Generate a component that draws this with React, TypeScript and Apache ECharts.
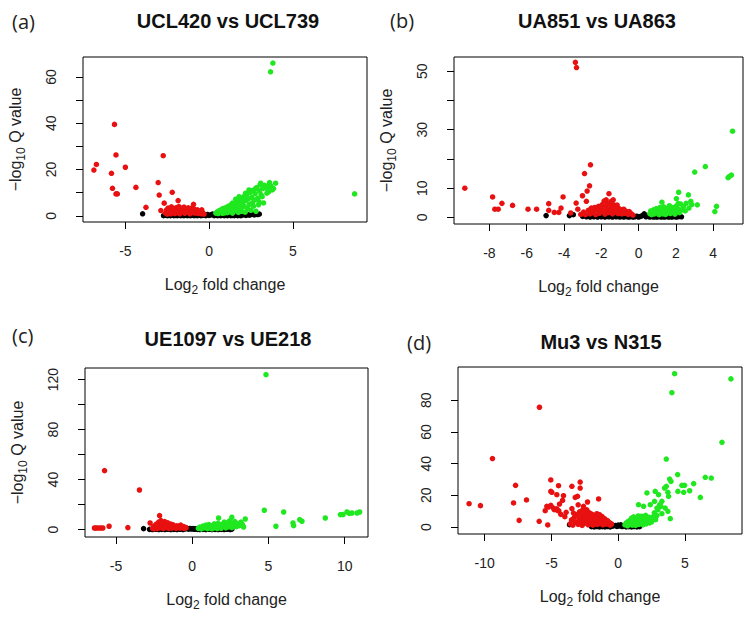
import React, { useEffect, useRef } from "react";
import * as echarts from "echarts";

// ---------- panel texts ----------
const panelLetters = ["(a)", "(b)", "(c)", "(d)"];
const panelTitles = ["UCL420 vs UCL739", "UA851 vs UA863", "UE1097 vs UE218", "Mu3 vs N315"];

// ---------- axis ticks / labels ----------
const aXTicks = [-5, 0, 5];
const aYTicks = [0, 10, 20, 30, 40, 50, 60];
const aYLabels = [0, 20, 40, 60];
const bXTicks = [-8, -6, -4, -2, 0, 2, 4];
const bYTicks = [0, 10, 20, 30, 40, 50];
const bYLabels = [0, 10, 30, 50];
const cXTicks = [-5, 0, 5, 10];
const cYTicks = [0, 20, 40, 60, 80, 100, 120];
const cYLabels = [0, 40, 80, 120];
const dXTicks = [-10, -5, 0, 5];
const dYTicks = [0, 20, 40, 60, 80];
const dYLabels = [0, 20, 40, 60, 80];

// ---------- panel (a) ----------
const aBlack = [
  [-3.97, 0.9], [-2.72, 0.1], [-2.6, 0.3], [-2.5, 0.1], [-2.4, 0.2], [-2.3, 0.1], [-2.2, 0.4], [-2.1, 0.1],
  [-2.0, 0.2], [-1.9, 0.1], [-1.8, 0.3], [-1.7, 0.1], [-1.6, 0.2], [-1.5, 0.1], [-1.4, 0.3], [-1.3, 0.1],
  [-1.2, 0.2], [-1.1, 0.1], [-1.0, 0.3], [-0.9, 0.1], [-0.8, 0.2], [-0.7, 0.1], [-0.6, 0.4], [-0.5, 0.1],
  [-0.4, 0.2], [-0.3, 0.5], [-0.2, 0.1], [-0.1, 0.6], [0, 0.2], [0.1, 0.4], [0.2, 0.8], [0.3, 0.1],
  [0.4, 0.3], [0.5, 0.1], [0.6, 0.2], [0.7, 0.1], [0.8, 0.3], [0.9, 0.1], [1.0, 0.2], [1.1, 0.1],
  [1.2, 0.4], [1.3, 0.1], [1.4, 0.2], [1.5, 0.1], [1.6, 0.3], [1.7, 0.1], [1.8, 0.2], [1.9, 0.1],
  [2.0, 0.4], [2.1, 0.6], [2.2, 0.2], [2.3, 0.7], [2.4, 0.3], [2.5, 0.5], [2.6, 0.8], [2.7, 0.4],
  [2.8, 0.9], [2.9, 0.6], [3.0, 0.8],
];
const aRed = [
  [-6.88, 19.8], [-6.73, 22.2], [-5.65, 39.5], [-5.56, 26.3], [-5.83, 18.4], [-5.77, 11.9], [-5.56, 9.5],
  [-5.48, 9.5], [-5.0, 21.0], [-4.37, 12.3], [-3.77, 3.7], [-2.74, 26.0], [-3.04, 14.4], [-2.98, 9.0],
  [-2.2, 10.2], [-1.85, 6.6], [-2.68, 5.5], [-2.88, 2.3], [-0.93, 5.0], [-0.95, 2.9], [-0.44, 2.6],
  [-2.6, 1.2], [-2.55, 2.5], [-2.5, 0.8], [-2.45, 3.4], [-2.4, 1.9], [-2.35, 2.8], [-2.3, 0.9], [-2.25, 3.9],
  [-2.2, 1.5], [-2.15, 2.6], [-2.1, 3.2], [-2.05, 1.0], [-2.0, 2.1], [-1.95, 3.6], [-1.9, 1.4], [-1.85, 2.9],
  [-1.8, 4.0], [-1.75, 0.9], [-1.7, 2.3], [-1.65, 3.3], [-1.6, 1.7], [-1.55, 2.7], [-1.5, 3.8], [-1.45, 1.1],
  [-1.4, 2.4], [-1.35, 3.1], [-1.3, 1.6], [-1.25, 3.5], [-1.2, 2.0], [-1.15, 0.9], [-1.1, 2.8], [-1.05, 3.3],
  [-1.0, 1.4], [-0.95, 2.3], [-0.9, 3.0], [-0.85, 1.2], [-0.8, 2.0], [-0.75, 1.6], [-0.7, 2.6], [-0.65, 1.0],
  [-0.6, 1.8], [-0.55, 1.3], [-0.5, 2.2], [-0.45, 0.9], [-0.4, 1.5], [-0.35, 1.1], [-0.3, 0.8],
];
const aGreen = [
  [3.81, 66], [3.67, 62.2], [8.69, 9.5], [3.97, 14.1], [3.61, 14.4], [3.08, 14.1], [2.18, 9.8], [2.38, 11.2],
  [2.78, 11.9], [3.37, 12.6], [3.57, 10.5], [3.77, 11.2], [1.39, 5.5], [1.59, 7.2], [1.79, 8.3], [1.98, 6.9],
  [2.58, 5.5], [2.98, 6.2], [3.17, 8.3],
  [0.4, 1.2], [0.5, 1.8], [0.55, 1.0], [0.6, 2.3], [0.7, 1.5], [0.75, 2.8], [0.8, 1.1], [0.85, 3.2],
  [0.9, 2.0], [0.95, 1.3], [1.0, 3.6], [1.05, 2.5], [1.1, 1.4], [1.15, 4.2], [1.2, 3.0], [1.25, 1.8],
  [1.3, 4.8], [1.35, 2.6], [1.4, 1.2], [1.45, 3.8], [1.5, 5.0], [1.55, 2.2], [1.6, 4.4], [1.65, 6.0],
  [1.7, 3.0], [1.75, 1.5], [1.8, 5.2], [1.85, 7.0], [1.9, 3.6], [1.95, 2.0], [2.0, 5.8], [2.05, 8.2],
  [2.1, 4.1], [2.15, 1.6], [2.2, 6.6], [2.25, 9.0], [2.3, 3.2], [2.35, 7.4], [2.4, 5.0], [2.45, 10.2],
  [2.5, 2.4], [2.55, 8.0], [2.6, 11.0], [2.65, 4.2], [2.7, 6.8], [2.75, 9.6], [2.8, 2.0], [2.85, 12.2],
  [2.9, 7.6], [2.95, 4.8], [3.0, 10.8], [3.05, 13.5], [3.1, 9.2], [3.2, 11.8], [3.25, 5.6], [3.3, 13.2],
  [3.4, 12.0], [3.45, 9.8], [3.5, 13.0], [3.6, 11.6], [3.7, 12.8], [3.85, 11.8],
];

// ---------- panel (b) ----------
const bBlack = [
  [-4.96, 0.6], [-3.71, 0.6], [-3.5, 0.9], [-3.0, 0.3], [-2.9, 0.8], [-2.8, 0.2], [-2.7, 0.5], [-2.6, 0.1],
  [-2.5, 0.6], [-2.4, 0.2], [-2.3, 0.4], [-2.2, 0.1], [-2.1, 0.7], [-2.0, 0.2], [-1.9, 0.4], [-1.8, 0.1],
  [-1.7, 0.5], [-1.6, 0.2], [-1.5, 0.3], [-1.4, 0.1], [-1.3, 0.5], [-1.2, 0.2], [-1.1, 0.3], [-1.0, 0.1],
  [-0.9, 0.4], [-0.8, 0.1], [-0.7, 0.3], [-0.6, 0.2], [-0.5, 0.1], [-0.4, 0.3], [-0.3, 0.1], [-0.2, 0.2],
  [-0.1, 0.4], [0, 0.1], [0.1, 0.3], [0.2, 0.6], [0.3, 1.2], [0.35, 0.8], [0.4, 0.2], [0.5, 0.4],
  [0.6, 0.1], [0.7, 0.3], [0.8, 0.1], [0.9, 0.2], [1.0, 0.1], [1.1, 0.3], [1.2, 0.1], [1.3, 0.2],
  [1.4, 0.1], [1.5, 0.3], [1.6, 0.1], [1.7, 0.2], [1.8, 0.1], [1.9, 0.3], [2.0, 0.1], [2.1, 0.2],
  [2.2, 0.3], [2.3, 0.2],
];
const bRed = [
  [-9.32, 10.0], [-7.83, 7.0], [-7.71, 2.8], [-7.53, 2.8], [-7.33, 4.8], [-6.76, 4.1], [-5.93, 2.8],
  [-5.47, 2.8], [-4.82, 4.7], [-4.82, 2.4], [-4.52, 1.7], [-4.28, 1.7], [-4.16, 3.2], [-4.05, 7.0],
  [-3.64, 1.5], [-3.39, 53.1], [-3.33, 51.3], [-3.35, 4.9], [-3.26, 2.8], [-3.01, 7.4], [-2.9, 15.0],
  [-2.76, 9.0], [-2.63, 10.8], [-2.58, 18.0], [-2.8, 5.5], [-2.54, 3.2], [-2.37, 2.6], [-2.01, 2.4],
  [-1.74, 6.0], [-1.65, 4.7], [-1.59, 8.1], [-1.47, 5.5], [-1.33, 4.3], [-1.36, 6.0],
  [-3.1, 1.0], [-2.95, 1.8], [-2.85, 0.9], [-2.7, 2.4], [-2.6, 1.2], [-2.5, 3.0], [-2.45, 1.6], [-2.35, 3.4],
  [-2.3, 0.9], [-2.2, 2.6], [-2.15, 3.8], [-2.1, 1.4], [-2.0, 3.2], [-1.95, 4.4], [-1.9, 2.0], [-1.85, 5.6],
  [-1.8, 1.1], [-1.75, 3.6], [-1.7, 2.6], [-1.65, 4.8], [-1.6, 1.6], [-1.55, 3.0], [-1.5, 2.2], [-1.45, 4.0],
  [-1.4, 1.2], [-1.35, 2.8], [-1.3, 3.6], [-1.25, 1.8], [-1.2, 2.4], [-1.15, 4.2], [-1.1, 1.3], [-1.05, 3.0],
  [-1.0, 2.0], [-0.95, 2.6], [-0.9, 1.2], [-0.85, 1.9], [-0.8, 2.8], [-0.75, 1.4], [-0.7, 2.2], [-0.6, 1.6],
  [-0.55, 1.0], [-0.5, 2.0], [-0.4, 1.3], [-0.3, 0.8],
];
const bGreen = [
  [5.04, 29.5], [4.98, 14.5], [4.87, 14.0], [4.8, 13.6], [3.58, 17.4], [3.01, 15.5], [3.15, 4.3],
  [4.18, 3.8], [4.09, 2.0], [2.15, 8.6], [2.67, 7.7], [2.8, 5.5], [1.25, 5.2], [2.03, 6.4], [2.12, 4.7],
  [0.6, 1.3], [0.65, 2.2], [0.7, 0.9], [0.75, 1.7], [0.8, 2.6], [0.85, 1.2], [0.9, 2.0], [0.95, 3.0],
  [1.0, 1.5], [1.05, 2.4], [1.1, 0.9], [1.15, 3.4], [1.2, 1.9], [1.25, 2.8], [1.3, 1.2], [1.35, 3.6],
  [1.4, 2.2], [1.45, 1.0], [1.5, 3.0], [1.55, 1.6], [1.6, 2.6], [1.65, 4.0], [1.7, 1.3], [1.75, 2.4],
  [1.8, 3.4], [1.85, 1.8], [1.9, 2.8], [1.95, 1.1], [2.0, 3.8], [2.05, 2.0], [2.1, 3.0], [2.2, 1.6],
  [2.25, 4.6], [2.3, 2.6], [2.4, 3.6], [2.5, 2.2], [2.55, 4.8], [2.7, 3.2], [2.85, 4.4],
];

// ---------- panel (c) ----------
const cBlack = [
  [-3.19, 0.8], [-2.8, 0.2], [-2.6, 0.1], [-2.4, 0.3], [-2.2, 0.1], [-2.0, 0.2], [-1.8, 0.1], [-1.6, 0.3],
  [-1.4, 0.1], [-1.2, 0.2], [-1.0, 0.1], [-0.8, 0.3], [-0.6, 0.1], [-0.45, 0.6], [-0.35, 1.0], [-0.25, 0.4],
  [-0.15, 0.9], [-0.05, 0.5], [0.05, 0.8], [0.15, 0.3], [0.25, 0.7], [0.35, 0.2], [0.5, 0.1], [0.7, 0.2],
  [0.9, 0.1], [1.1, 0.3], [1.3, 0.1], [1.5, 0.2], [1.7, 0.1], [1.9, 0.2], [2.1, 0.1], [2.3, 0.3],
  [2.5, 0.1], [2.6, 0.4],
];
const cRed = [
  [-6.41, 1.3], [-6.3, 1.3], [-6.16, 1.3], [-6.0, 1.3], [-5.86, 1.3], [-5.75, 47.2], [-5.45, 2.7],
  [-4.22, 1.6], [-3.46, 31.7], [-2.76, 5.3], [-2.14, 11.2],
  [-2.6, 1.0], [-2.55, 2.2], [-2.5, 0.6], [-2.45, 3.2], [-2.4, 1.6], [-2.35, 4.4], [-2.3, 0.8], [-2.25, 2.8],
  [-2.2, 6.0], [-2.15, 1.4], [-2.1, 3.6], [-2.05, 7.2], [-2.0, 2.2], [-1.95, 5.0], [-1.9, 0.9], [-1.85, 3.0],
  [-1.8, 6.4], [-1.75, 1.6], [-1.7, 4.0], [-1.65, 2.4], [-1.6, 5.4], [-1.55, 1.0], [-1.5, 3.2], [-1.45, 2.0],
  [-1.4, 4.4], [-1.35, 1.2], [-1.3, 2.8], [-1.25, 3.8], [-1.2, 1.6], [-1.1, 2.4], [-1.05, 1.0], [-1.0, 3.0],
  [-0.95, 1.8], [-0.9, 2.6], [-0.8, 1.2], [-0.75, 3.6], [-0.7, 2.0], [-0.6, 1.4], [-0.55, 2.4], [-0.5, 0.9],
  [-0.4, 1.6],
];
const cGreen = [
  [4.84, 124], [4.73, 15.5], [5.49, 2.7], [6.0, 14.1], [6.61, 5.3], [6.65, 3.2], [7.05, 8.0], [7.2, 6.7],
  [8.73, 9.3], [9.72, 12.0], [9.89, 12.0], [10.15, 14.1], [10.3, 13.0], [10.48, 13.3], [10.81, 13.3],
  [10.98, 14.1], [1.73, 9.3], [2.6, 9.9], [3.48, 8.5], [3.37, 2.1],
  [0.4, 1.0], [0.5, 2.0], [0.6, 0.6], [0.7, 2.8], [0.8, 1.4], [0.9, 3.6], [1.0, 0.8], [1.05, 2.2],
  [1.1, 4.0], [1.2, 1.2], [1.25, 3.0], [1.3, 0.7], [1.4, 2.4], [1.45, 4.6], [1.5, 1.5], [1.6, 3.2],
  [1.65, 0.9], [1.7, 5.0], [1.8, 2.0], [1.85, 3.8], [1.9, 1.1], [2.0, 4.4], [2.05, 2.6], [2.1, 6.0],
  [2.2, 1.4], [2.25, 3.4], [2.3, 5.4], [2.4, 2.2], [2.45, 7.0], [2.5, 4.0], [2.6, 1.6], [2.65, 5.2],
  [2.7, 3.0], [2.8, 6.4], [2.9, 2.4], [3.0, 4.6], [3.1, 3.2], [3.2, 6.0], [3.3, 4.0],
];

// ---------- panel (d) ----------
const dBlack = [
  [-3.65, 1.5], [-2.0, 0.2], [-1.8, 0.1], [-1.6, 0.3], [-1.4, 0.1], [-1.2, 0.2], [-1.0, 0.1], [-0.8, 0.3],
  [-0.6, 0.1], [-0.4, 0.5], [-0.2, 1.0], [-0.1, 0.4], [0, 1.2], [0.1, 0.6], [0.2, 1.4], [0.3, 0.3],
  [0.4, 0.8], [0.6, 0.1], [0.8, 0.2], [1.0, 0.1], [1.2, 0.3], [1.4, 0.1], [1.6, 0.2],
];
const dRed = [
  [-11.17, 14.7], [-10.32, 13.5], [-9.42, 43.2], [-7.69, 26.3], [-7.84, 15.2], [-7.42, 4.2], [-6.87, 17.1],
  [-5.9, 75.6], [-5.92, 3.6], [-5.28, 1.3], [-5.47, 10.3], [-5.35, 13.1], [-5.22, 12.6], [-5.05, 29.7],
  [-5.05, 22.5], [-4.97, 21.9], [-5.05, 13.7], [-4.6, 20.4], [-4.47, 26.1], [-4.85, 12.0], [-4.6, 11.5],
  [-4.45, 10.2], [-4.3, 8.0], [-4.1, 19.8], [-4.17, 16.8], [-3.9, 9.3], [-3.47, 25.7], [-3.22, 18.7],
  [-3.47, 11.6], [-3.35, 8.8], [-3.05, 19.4], [-2.85, 28.4], [-2.85, 24.6], [-2.3, 15.8], [-1.47, 17.7],
  [-2.35, 10.9], [-2.6, 13.1], [-3.0, 14.0], [-4.0, 6.5], [-4.4, 14.5], [-4.8, 11.0], [-4.55, 10.5],
  [-3.6, 2.0], [-3.5, 4.5], [-3.4, 1.2], [-3.3, 6.0], [-3.2, 3.0], [-3.1, 7.8], [-3.0, 1.6], [-2.95, 5.0],
  [-2.9, 9.6], [-2.8, 3.4], [-2.75, 7.0], [-2.7, 1.0], [-2.65, 11.0], [-2.6, 4.8], [-2.55, 8.4], [-2.5, 2.4],
  [-2.45, 6.2], [-2.4, 10.4], [-2.35, 3.6], [-2.3, 7.6], [-2.25, 1.4], [-2.2, 5.4], [-2.15, 9.0], [-2.1, 2.8],
  [-2.05, 6.6], [-2.0, 4.2], [-1.95, 8.0], [-1.9, 1.2], [-1.85, 5.8], [-1.8, 3.0], [-1.75, 7.2], [-1.7, 2.0],
  [-1.65, 4.8], [-1.6, 8.4], [-1.55, 1.6], [-1.5, 6.0], [-1.45, 3.4], [-1.4, 7.8], [-1.35, 2.2], [-1.3, 5.0],
  [-1.25, 3.8], [-1.2, 6.6], [-1.15, 1.4], [-1.1, 4.2], [-1.05, 2.6], [-1.0, 5.2], [-0.95, 1.8], [-0.9, 3.4],
  [-0.85, 2.4], [-0.8, 4.0], [-0.7, 1.6], [-0.65, 2.8], [-0.6, 1.2], [-0.5, 2.0],
];
const dGreen = [
  [4.22, 96.8], [4.02, 84.8], [8.44, 93.5], [7.77, 53.5], [3.6, 42.9], [4.45, 33.1], [3.85, 30.3],
  [3.95, 28.8], [3.47, 24.6], [3.6, 25.7], [3.72, 21.9], [3.77, 19.4], [4.77, 26.3], [4.97, 26.3],
  [4.47, 22.5], [4.9, 21.9], [5.35, 22.9], [5.65, 27.4], [6.15, 18.7], [6.52, 31.4], [6.97, 30.9],
  [2.15, 21.5], [2.77, 22.5], [3.02, 20.4], [2.72, 16.2], [3.27, 16.2], [1.52, 14.1], [1.9, 13.1],
  [2.4, 14.1], [2.97, 10.9], [3.2, 13.0], [3.52, 12.0], [3.72, 9.9], [3.9, 5.3], [3.27, 8.4], [2.65, 6.7],
  [3.1, 14.0], [2.9, 12.0],
  [0.5, 1.4], [0.6, 2.6], [0.7, 0.8], [0.75, 3.6], [0.8, 1.8], [0.9, 4.4], [0.95, 2.2], [1.0, 5.6],
  [1.05, 1.2], [1.1, 3.2], [1.15, 6.4], [1.2, 2.0], [1.25, 4.6], [1.3, 1.0], [1.35, 3.8], [1.4, 5.8],
  [1.45, 2.6], [1.5, 7.0], [1.55, 1.6], [1.6, 4.0], [1.65, 5.2], [1.7, 2.4], [1.75, 6.8], [1.8, 3.4],
  [1.85, 1.4], [1.9, 5.0], [1.95, 2.8], [2.0, 4.2], [2.05, 7.4], [2.1, 2.0], [2.15, 5.4], [2.2, 3.6],
  [2.3, 6.2], [2.35, 2.6], [2.4, 4.8], [2.5, 3.2], [2.6, 6.0], [2.7, 9.0], [2.8, 4.6], [2.9, 7.2],
];

const FONT = '"Liberation Sans", Arial, Helvetica, sans-serif';
const RED = "#e81010";
const GREEN = "#20e820";
const BLACK = "#000000";

const X_NAME = "{n|Log}{s|2}{n| fold change}";
const Y_NAME = "{n|\u2212log}{s|10}{n| Q value}";
const nameRich = {
  n: { fontSize: 16, fontFamily: FONT, color: "#222", verticalAlign: "top", lineHeight: 16 },
  s: { fontSize: 12, fontFamily: FONT, color: "#222", verticalAlign: "bottom", padding: [8, 0, 0, 0] },
};

export default function App() {
  const ref = useRef<HTMLDivElement>(null);
  useEffect(() => {
    if (!ref.current) return;
    const chart = echarts.init(ref.current, null, { renderer: "svg" });

    const panels = [
      { grid: { left: 83, top: 57, width: 284, height: 165 }, xr: [-7.53, 9.43], yr: [-2.64, 68.6], xt: aXTicks, yt: aYTicks, yl: aYLabels, data: [aBlack, aRed, aGreen], yName: true },
      { grid: { left: 454, top: 57, width: 289, height: 167 }, xr: [-9.9, 5.6], yr: [-2.27, 54.9], xt: bXTicks, yt: bYTicks, yl: bYLabels, data: [bBlack, bRed, bGreen], yName: true },
      { grid: { left: 85, top: 368, width: 283, height: 169 }, xr: [-7.03, 11.53], yr: [-5.9, 129.3], xt: cXTicks, yt: cYTicks, yl: cYLabels, data: [cBlack, cRed, cGreen], yName: true },
      { grid: { left: 458, top: 367, width: 284, height: 167 }, xr: [-12.0, 9.27], yr: [-4.4, 101], xt: dXTicks, yt: dYTicks, yl: dYLabels, data: [dBlack, dRed, dGreen], yName: false },
    ];

    const labelStyle = { fontFamily: FONT, fontSize: 14, color: "#222" };
    const tickStyle = { show: true, inside: false, length: 7, lineStyle: { color: "#000", width: 1 } };

    const grids = panels.map((p) => ({ ...p.grid, show: true, borderColor: "#000", borderWidth: 1, backgroundColor: "transparent" }));
    const xAxes = panels.map((p, i) => ({
      type: "value",
      gridIndex: i,
      position: "bottom",
      min: p.xr[0],
      max: p.xr[1],
      axisLine: { show: false, onZero: false },
      splitLine: { show: false },
      axisTick: { ...tickStyle, customValues: p.xt },
      axisLabel: { ...labelStyle, margin: 22, customValues: p.xt },
      name: X_NAME,
      nameLocation: "middle",
      nameGap: 54,
      nameTextStyle: { rich: nameRich },
    }));
    const yAxes = panels.map((p, i) => ({
      type: "value",
      gridIndex: i,
      position: "left",
      min: p.yr[0],
      max: p.yr[1],
      axisLine: { show: false, onZero: false },
      splitLine: { show: false },
      axisTick: { ...tickStyle, customValues: p.yt },
      axisLabel: { ...labelStyle, rotate: 90, margin: 25, customValues: p.yl },
      name: p.yName ? Y_NAME : "",
      nameLocation: "middle",
      nameGap: 56,
      nameTextStyle: { rich: nameRich },
    }));
    const colors = [BLACK, RED, GREEN];
    const series: any[] = [];
    panels.forEach((p, i) => {
      p.data.forEach((d, k) => {
        series.push({
          type: "scatter",
          xAxisIndex: i,
          yAxisIndex: i,
          data: d,
          symbol: "circle",
          symbolSize: 5.5,
          itemStyle: { color: colors[k], opacity: 1 },
          silent: true,
        });
      });
    });

    const letterPos = [[12, 21], [390, 20], [12, 335], [407, 342]];
    const titlePos = [[228, 21], [597, 21], [228, 339], [601, 342]];
    const graphic: any[] = [];
    panelLetters.forEach((t, i) => {
      graphic.push({
        type: "text",
        x: letterPos[i][0],
        y: letterPos[i][1],
        style: { text: t, fontFamily: '"Open Sans", "Noto Sans", sans-serif', fontSize: 20, fill: "#222", align: "left", verticalAlign: "middle" },
      });
    });
    panelTitles.forEach((t, i) => {
      graphic.push({
        type: "text",
        x: titlePos[i][0],
        y: titlePos[i][1],
        style: { text: t, fontFamily: FONT, fontWeight: "bold", fontSize: 20, fill: "#111", align: "center", verticalAlign: "middle" },
      });
    });

    chart.setOption({
      animation: false,
      backgroundColor: "#ffffff",
      grid: grids,
      xAxis: xAxes,
      yAxis: yAxes,
      series,
      graphic,
    });

    return () => chart.dispose();
  }, []);
  return <div ref={ref} style={{ position: "fixed", left: 0, top: 0, width: 750, height: 626, background: "#fff" }} />;
}
